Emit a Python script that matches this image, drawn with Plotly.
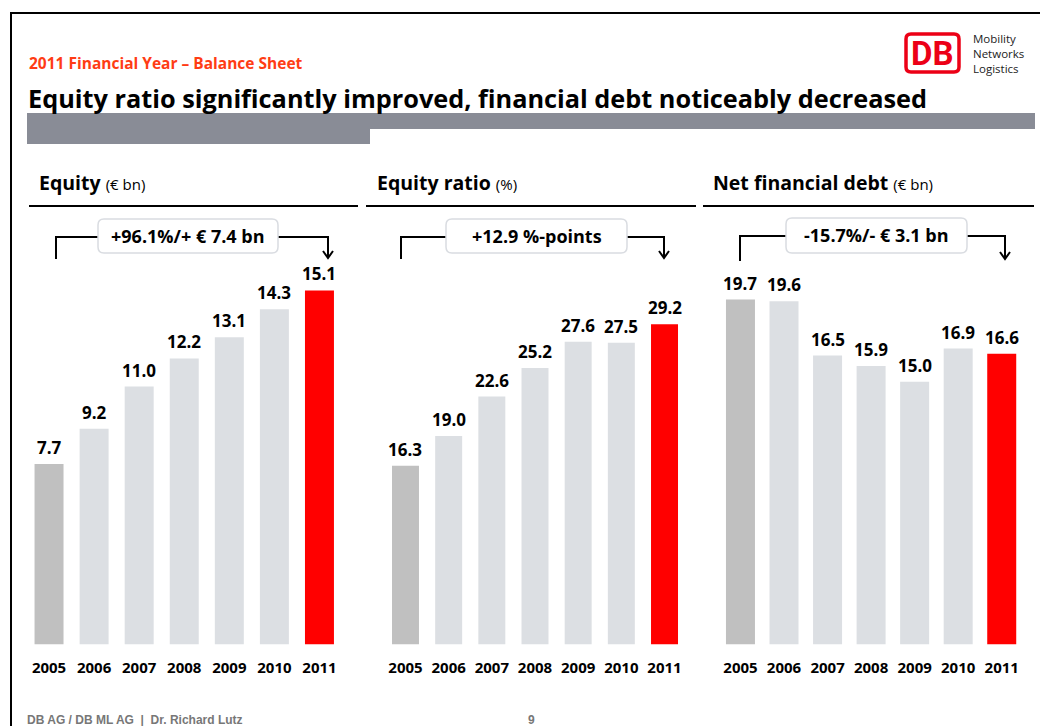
import plotly.graph_objects as go

W, H = 1040, 726

years = ["2005", "2006", "2007", "2008", "2009", "2010", "2011"]
equity = [7.7, 9.2, 11.0, 12.2, 13.1, 14.3, 15.1]
equity_ratio = [16.3, 19.0, 22.6, 25.2, 27.6, 27.5, 29.2]
net_debt = [19.7, 19.6, 16.5, 15.9, 15.0, 16.9, 16.6]
value_labels_1 = ["7.7", "9.2", "11.0", "12.2", "13.1", "14.3", "15.1"]
value_labels_2 = ["16.3", "19.0", "22.6", "25.2", "27.6", "27.5", "29.2"]
value_labels_3 = ["19.7", "19.6", "16.5", "15.9", "15.0", "16.9", "16.6"]

panel_titles = [("Equity", "(€ bn)"), ("Equity ratio", "(%)"), ("Net financial debt", "(€ bn)")]
change_labels = ["+96.1%/+ € 7.4 bn", "+12.9 %-points", "-15.7%/- € 3.1 bn"]

FONT = "Open Sans"
C_FIRST = "#c0c0c0"
C_MID = "#dcdfe3"
C_LAST = "#ff0000"
colors = [C_FIRST] + [C_MID] * 5 + [C_LAST]


def px(x):
    return x / W


def py(y):
    return 1 - y / H


y_bot, y_top = 644.5, 220.0
ydom = [py(y_bot), py(y_top)]
hpx = y_bot - y_top

panels = [
    dict(vals=equity, labels=value_labels_1, dom=(26.5, 342.0), width=0.643, scale=23.45),
    dict(vals=equity_ratio, labels=value_labels_2, dom=(383.9, 686.1), width=0.625, scale=10.97),
    dict(vals=net_debt, labels=value_labels_3, dom=(718.7, 1023.5), width=0.666, scale=17.51),
]

fig = go.Figure()
annotations = []
shapes = []

for i, p in enumerate(panels):
    n = "" if i == 0 else str(i + 1)
    fig.add_trace(go.Bar(
        x=years, y=p["vals"], width=p["width"],
        marker=dict(color=colors, line=dict(width=0)),
        xaxis="x" + n, yaxis="y" + n, showlegend=False, hoverinfo="x+y",
    ))
    fig.update_layout(**{
        "xaxis" + n: dict(domain=[px(p["dom"][0]), px(p["dom"][1])], anchor="y" + n,
                          type="category", categoryorder="array", categoryarray=years,
                          range=[-0.5, len(years) - 0.5], automargin=False,
                          showgrid=False, zeroline=False, showline=False,
                          ticks="", ticklabelstandoff=12,
                          tickfont=dict(family=FONT, size=15, color="#000000", weight="bold")),
        "yaxis" + n: dict(domain=ydom, anchor="x" + n, range=[0, hpx / p["scale"]], automargin=False,
                          visible=False, showgrid=False, zeroline=False),
    })
    for k, (v, t) in enumerate(zip(p["vals"], p["labels"])):
        annotations.append(dict(x=k, y=v, xref="x" + n, yref="y" + n, text="<b>" + t + "</b>",
                                showarrow=False, yanchor="bottom", yshift=3,
                                font=dict(family=FONT, size=17, color="#000000")))

# Frame
shapes.append(dict(type="path", xref="paper", yref="paper",
                   path=f"M {px(11)} {py(730)} L {px(11)} {py(13)} L {px(1045)} {py(13)}",
                   line=dict(color="#000000", width=2)))

# Header texts
annotations.append(dict(x=px(27), y=py(63), xref="paper", yref="paper", xanchor="left", yanchor="middle",
                        text="<b>2011 Financial Year – Balance Sheet</b>", showarrow=False,
                        font=dict(family=FONT, size=15.5, color="#ff3c14")))
annotations.append(dict(x=px(26), y=py(98), xref="paper", yref="paper", xanchor="left", yanchor="middle",
                        text="<b>Equity ratio significantly improved, financial debt noticeably decreased</b>",
                        showarrow=False, font=dict(family=FONT, size=25.3, color="#000000")))

GRAY = "#898c96"
shapes.append(dict(type="path", xref="paper", yref="paper",
                   path=(f"M {px(27)} {py(113)} L {px(1035)} {py(113)} L {px(1035)} {py(129)} "
                         f"L {px(370)} {py(129)} L {px(370)} {py(144)} L {px(27)} {py(144)} Z"),
                   fillcolor=GRAY, line=dict(width=0)))


def rounded_rect(x0, y0, x1, y1, r):
    return (f"M {px(x0 + r)} {py(y0)} L {px(x1 - r)} {py(y0)} Q {px(x1)} {py(y0)} {px(x1)} {py(y0 + r)} "
            f"L {px(x1)} {py(y1 - r)} Q {px(x1)} {py(y1)} {px(x1 - r)} {py(y1)} "
            f"L {px(x0 + r)} {py(y1)} Q {px(x0)} {py(y1)} {px(x0)} {py(y1 - r)} "
            f"L {px(x0)} {py(y0 + r)} Q {px(x0)} {py(y0)} {px(x0 + r)} {py(y0)} Z")


shapes.append(dict(type="path", xref="paper", yref="paper", path=rounded_rect(906, 34, 959, 72, 5),
                   fillcolor="#ffffff", line=dict(color="#ec0016", width=3.5)))
annotations.append(dict(x=px(932.5), y=py(54), xref="paper", yref="paper", text="<b>DB</b>",
                        showarrow=False, xanchor="center", yanchor="middle",
                        font=dict(family="Roboto", size=33, color="#ec0016")))
annotations.append(dict(x=px(971), y=py(53), xref="paper", yref="paper",
                        text="Mobility<br>Networks<br>Logistics",
                        showarrow=False, xanchor="left", yanchor="middle", align="left",
                        font=dict(family=FONT, size=11.5, color="#222222")))

title_x = [37, 375, 711]
line_x = [(29, 358), (366, 696), (703, 1034)]
for (t, u), tx, (l0, l1) in zip(panel_titles, title_x, line_x):
    annotations.append(dict(x=px(tx), y=py(183), xref="paper", yref="paper", xanchor="left", yanchor="middle",
                            text=f"<b>{t}</b> <span style='font-size:15px'>{u}</span>", showarrow=False,
                            font=dict(family=FONT, size=19.5, color="#000000")))
    shapes.append(dict(type="line", xref="paper", yref="paper", x0=px(l0), x1=px(l1), y0=py(206), y1=py(206),
                       line=dict(color="#000000", width=2)))

brackets = [
    dict(left=56, box=(98, 278), right=328, ytop=237, yl=259, yr=258, by=(219, 253)),
    dict(left=401, box=(446, 627), right=664, ytop=237, yl=259, yr=258, by=(219, 253)),
    dict(left=740, box=(786, 967), right=1005, ytop=236, yl=261, yr=259, by=(218, 253)),
]
for b, lab in zip(brackets, change_labels):
    shapes.append(dict(type="path", xref="paper", yref="paper",
                       path=(f"M {px(b['left'])} {py(b['yl'])} L {px(b['left'])} {py(b['ytop'])} "
                             f"L {px(b['box'][0])} {py(b['ytop'])}"),
                       line=dict(color="#000000", width=2)))
    shapes.append(dict(type="path", xref="paper", yref="paper",
                       path=(f"M {px(b['box'][1])} {py(b['ytop'])} L {px(b['right'])} {py(b['ytop'])} "
                             f"L {px(b['right'])} {py(b['yr'])}"),
                       line=dict(color="#000000", width=2)))
    shapes.append(dict(type="path", xref="paper", yref="paper",
                       path=(f"M {px(b['right'] - 5)} {py(b['yr'] - 7)} L {px(b['right'])} {py(b['yr'])} "
                             f"L {px(b['right'] + 5)} {py(b['yr'] - 7)}"),
                       line=dict(color="#000000", width=2)))
    shapes.append(dict(type="path", xref="paper", yref="paper",
                       path=rounded_rect(b['box'][0], b['by'][0], b['box'][1], b['by'][1], 6),
                       fillcolor="#ffffff", line=dict(color="#d9dce1", width=1.5)))
    annotations.append(dict(x=px((b['box'][0] + b['box'][1]) / 2), y=py((b['by'][0] + b['by'][1]) / 2),
                            xref="paper", yref="paper", text=f"<b>{lab}</b>", showarrow=False,
                            xanchor="center", yanchor="middle",
                            font=dict(family=FONT, size=18, color="#000000")))

annotations.append(dict(x=px(25), y=py(720), xref="paper", yref="paper", xanchor="left", yanchor="middle",
                        text="<b>DB AG / DB ML AG  |  Dr. Richard Lutz</b>", showarrow=False,
                        font=dict(family="Liberation Sans", size=12, color="#777777")))
annotations.append(dict(x=px(531), y=py(720), xref="paper", yref="paper", xanchor="center", yanchor="middle",
                        text="<b>9</b>", showarrow=False,
                        font=dict(family="Liberation Sans", size=12, color="#777777")))

fig.update_layout(
    width=W, height=H, margin=dict(l=0, r=0, t=0, b=0, autoexpand=False),
    paper_bgcolor="#ffffff", plot_bgcolor="rgba(0,0,0,0)",
    annotations=annotations, shapes=shapes, showlegend=False,
    font=dict(family=FONT),
)

fig.write_html("out.html")
